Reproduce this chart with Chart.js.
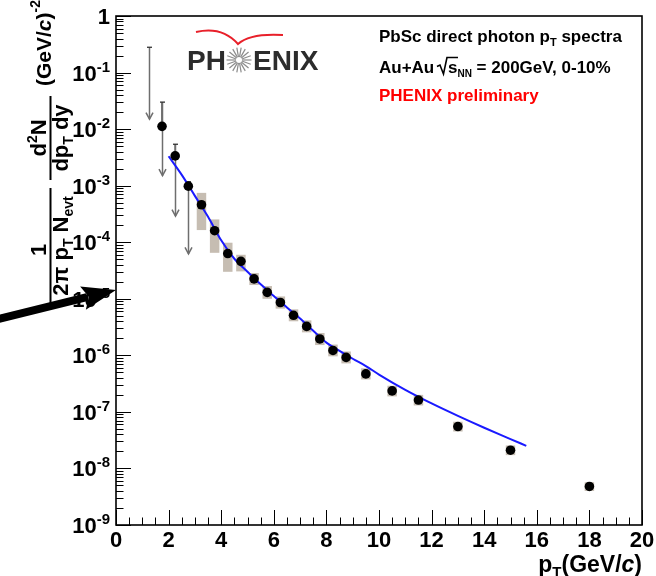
<!DOCTYPE html>
<html>
<head>
<meta charset="utf-8">
<script src="https://cdn.jsdelivr.net/npm/chart.js@4/dist/chart.umd.min.js"></script>
<style>
  html, body { margin: 0; padding: 0; background: #fff; }
  canvas { display: block; }
</style>
</head>
<body>
<canvas id="c" width="656" height="576"></canvas>
<script>
// Direct photon invariant yield, Au+Au sqrt(sNN) = 200 GeV, 0-10% central (PbSc)
const ptBins    = [1.75, 2.25, 2.75, 3.25, 3.75, 4.25, 4.75, 5.25, 5.75, 6.25, 6.75,
                   7.25, 7.75, 8.25, 8.75, 9.5, 10.5, 11.5, 13, 15, 18];
const yieldVals = [1.12e-2, 3.36e-3, 9.8e-4, 4.6e-4, 1.6e-4, 6.3e-5, 4.6e-5, 2.25e-5, 1.3e-5, 8.6e-6, 5.1e-6,
                   3.25e-6, 1.95e-6, 1.22e-6, 9.2e-7, 4.7e-7, 2.35e-7, 1.62e-7, 5.5e-8, 2.1e-8, 4.8e-9];
// statistical error ends (null = hidden by the marker)
const statHi    = [3.0e-2, 5.4e-3, 1.17e-3, 5.4e-4, 1.9e-4, null, null, null, null, null, null,
                   null, null, null, null, null, null, null, null, null, null];
const statLo    = [null, null, null, 3.9e-4, 1.35e-4, null, null, null, null, null, null,
                   null, null, null, null, null, null, null, null, null, null];
// systematic error boxes
const sysHi     = [null, null, null, 7.46e-4, 2.53e-4, 9.8e-5, 6.0e-5, 2.85e-5, 1.68e-5, 1.1e-5, 6.5e-6,
                   4.15e-6, 2.48e-6, 1.55e-6, 1.17e-6, 5.9e-7, 2.9e-7, 2.0e-7, 6.7e-8, 2.55e-8, 5.7e-9];
const sysLo     = [null, null, null, 1.64e-4, 6.5e-5, 3.0e-5, 3.05e-5, 1.75e-5, 1.0e-5, 6.7e-6, 4.0e-6,
                   2.55e-6, 1.52e-6, 9.6e-7, 7.2e-7, 3.75e-7, 1.88e-7, 1.3e-7, 4.5e-8, 1.72e-8, 4.0e-9];
// upper-limit arrows (from cap value down to arrow tip)
const arrowPt   = [1.25, 1.75, 2.25, 2.75];
const arrowTop  = [0.28, 3.0e-2, 5.4e-3, 1.17e-3];
const arrowTip  = [1.5e-2, 1.5e-3, 2.9e-4, 6.2e-5];
// fitted reference curve
const fitPt     = [2.0, 2.5, 3.0, 3.5, 4.0, 4.5, 5.0, 5.5, 6.0, 6.5, 7.0, 7.5, 8.0, 8.5,
                   9.0, 9.5, 10.0, 11.0, 12.0, 13.0, 14.0, 15.0, 15.6];
const fitVals   = [3.31e-3, 1.55e-3, 6.6e-4, 2.82e-4, 1.08e-4, 5.1e-5, 3.0e-5, 1.8e-5, 1.12e-5, 7.0e-6, 4.47e-6,
                   2.72e-6, 1.68e-6, 1.2e-6, 8.7e-7, 6.46e-7, 4.57e-7, 2.45e-7, 1.41e-7, 8.5e-8, 5.25e-8,
                   3.31e-8, 2.51e-8];
// axis labels
const xTickVals = [0, 2, 4, 6, 8, 10, 12, 14, 16, 18, 20];
const yDecades  = [0, -1, -2, -3, -4, -5, -6, -7, -8, -9];

const FONT = '"Liberation Sans", Arial, Helvetica, sans-serif';
function setFont(ctx, size, italic) {
  ctx.font = (italic ? 'italic ' : '') + 'bold ' + size + 'px ' + FONT;
}
function runsWidth(ctx, runs, base) {
  let w = 0;
  for (const r of runs) { setFont(ctx, r.s || base, r.it); w += ctx.measureText(r.t).width; }
  return w;
}
function drawRuns(ctx, runs, x, y, base) {
  let cx = x;
  for (const r of runs) {
    setFont(ctx, r.s || base, r.it);
    ctx.fillText(r.t, cx, y + (r.dy || 0));
    cx += ctx.measureText(r.t).width;
  }
  return cx;
}

const errorPlugin = {
  id: 'errors',
  beforeDatasetsDraw(chart) {
    const { ctx, scales: { x, y }, chartArea } = chart;
    ctx.save();
    ctx.beginPath();
    ctx.rect(chartArea.left, chartArea.top, chartArea.width, chartArea.height);
    ctx.clip();
    // systematic boxes
    ctx.fillStyle = 'rgb(198,189,178)';
    ptBins.forEach((pt, i) => {
      if (sysHi[i] == null) return;
      const x0 = x.getPixelForValue(pt - 0.18), x1 = x.getPixelForValue(pt + 0.18);
      const y0 = y.getPixelForValue(sysHi[i]), y1 = y.getPixelForValue(sysLo[i]);
      ctx.fillRect(x0, y0, x1 - x0, y1 - y0);
    });
    // statistical bars
    ctx.strokeStyle = '#222';
    ctx.lineWidth = 1.3;
    ptBins.forEach((pt, i) => {
      const px = x.getPixelForValue(pt), py = y.getPixelForValue(yieldVals[i]);
      if (statHi[i] != null) {
        const t = y.getPixelForValue(statHi[i]);
        ctx.beginPath(); ctx.moveTo(px, py); ctx.lineTo(px, t); ctx.stroke();
      }
      if (statLo[i] != null) {
        const b = y.getPixelForValue(statLo[i]);
        ctx.beginPath(); ctx.moveTo(px, py); ctx.lineTo(px, b); ctx.stroke();
      }
    });
    // limit arrows
    arrowPt.forEach((pt, i) => {
      const px = Math.round(x.getPixelForValue(pt)) + 0.5;
      const t = y.getPixelForValue(arrowTop[i]);
      const b = y.getPixelForValue(arrowTip[i]);
      ctx.strokeStyle = '#6e6e6e';
      ctx.lineWidth = 1.5;
      ctx.beginPath(); ctx.moveTo(px, t); ctx.lineTo(px, b); ctx.stroke();
      ctx.beginPath(); ctx.moveTo(px - 3.5, b - 6.5); ctx.lineTo(px, b); ctx.lineTo(px + 3.5, b - 6.5); ctx.stroke();
      ctx.strokeStyle = '#333';
      ctx.lineWidth = 1.3;
      ctx.beginPath(); ctx.moveTo(px - 2.5, t); ctx.lineTo(px + 2.5, t); ctx.stroke();
    });
    ctx.restore();
  }
};

const framePlugin = {
  id: 'frame',
  afterDraw(chart) {
    const { ctx, scales: { x, y }, chartArea: a } = chart;
    ctx.save();
    ctx.fillStyle = '#000';
    ctx.strokeStyle = '#000';

    // y-axis ticks (inward)
    ctx.lineWidth = 1;
    for (let k = 0; k >= -9; k--) {
      const base = Math.pow(10, k);
      const py = Math.round(y.getPixelForValue(base)) + 0.5;
      ctx.beginPath(); ctx.moveTo(a.left, py); ctx.lineTo(a.left + 15, py); ctx.stroke();
      if (k > -9) {
        for (let m = 2; m <= 9; m++) {
          const my = Math.round(y.getPixelForValue(base * m / 10)) + 0.5;
          ctx.beginPath(); ctx.moveTo(a.left, my); ctx.lineTo(a.left + 7.5, my); ctx.stroke();
        }
      }
    }
    // x-axis ticks (inward)
    for (let v = 0; v <= 20.001; v += 0.5) {
      const px = Math.round(x.getPixelForValue(v)) + 0.5;
      const major = Math.abs(v / 2 - Math.round(v / 2)) < 1e-6;
      ctx.beginPath(); ctx.moveTo(px, a.bottom); ctx.lineTo(px, a.bottom - (major ? 15 : 7.5)); ctx.stroke();
    }
    // frame
    ctx.lineWidth = 1.6;
    ctx.strokeRect(a.left, a.top, a.right - a.left, a.bottom - a.top);

    // y tick labels
    ctx.textBaseline = 'alphabetic';
    ctx.textAlign = 'left';
    yDecades.forEach(k => {
      const ty = y.getPixelForValue(Math.pow(10, k));
      const runs = k === 0 ? [{ t: '1' }] : [{ t: '10' }, { t: String(k), s: 15, dy: -9 }];
      const w = runsWidth(ctx, runs, 22);
      drawRuns(ctx, runs, 110 - w, ty + 8, 22);
    });
    // x tick labels
    xTickVals.forEach(v => {
      const px = x.getPixelForValue(v);
      setFont(ctx, 22);
      const w = ctx.measureText(String(v)).width;
      ctx.fillText(String(v), px - w / 2, 547);
    });
    // x title
    {
      const runs = [{ t: 'p' }, { t: 'T', s: 15, dy: 5 }, { t: '(GeV/' }, { t: 'c', it: true }, { t: ')' }];
      const w = runsWidth(ctx, runs, 23);
      drawRuns(ctx, runs, 642 - w, 572, 23);
    }
    // y title (rotated)
    ctx.save();
    ctx.translate(0, 310);
    ctx.rotate(-Math.PI / 2);
    {
      // 1 / (2pi pT Nevt)
      let runs = [{ t: '1' }];
      let w = runsWidth(ctx, runs, 22);
      drawRuns(ctx, runs, 60 - w / 2, 46, 22);
      ctx.lineWidth = 2;
      ctx.beginPath(); ctx.moveTo(6, 50.5); ctx.lineTo(122, 50.5); ctx.stroke();
      runs = [{ t: '2\u03C0 p' }, { t: 'T', s: 14, dy: 5 }, { t: ' N' }, { t: 'evt', s: 14, dy: 5 }];
      w = runsWidth(ctx, runs, 22);
      drawRuns(ctx, runs, 64 - w / 2, 68, 22);
      // d2N / (dpT dy)
      runs = [{ t: 'd' }, { t: '2', s: 14, dy: -9 }, { t: 'N' }];
      w = runsWidth(ctx, runs, 22);
      drawRuns(ctx, runs, 172 - w / 2, 46, 22);
      ctx.beginPath(); ctx.moveTo(130, 50.5); ctx.lineTo(214, 50.5); ctx.stroke();
      runs = [{ t: 'dp' }, { t: 'T', s: 14, dy: 5 }, { t: ' dy' }];
      w = runsWidth(ctx, runs, 22);
      drawRuns(ctx, runs, 172 - w / 2, 68, 22);
      // (GeV/c)^-2
      runs = [{ t: '(GeV/' }, { t: 'c', it: true }, { t: ')' }, { t: '-2', s: 14, dy: -11 }];
      drawRuns(ctx, runs, 224, 51, 21);
    }
    ctx.restore();

    // annotation block
    ctx.fillStyle = '#000';
    drawRuns(ctx, [{ t: 'PbSc direct photon p' }, { t: 'T', s: 11, dy: 4 }, { t: ' spectra' }], 379, 42, 17);
    let cx = drawRuns(ctx, [{ t: 'Au+Au ' }], 379, 73, 17);
    // square-root sign
    ctx.lineWidth = 1.6;
    ctx.beginPath();
    ctx.moveTo(cx - 2, 66.5); ctx.lineTo(cx + 1, 65); ctx.lineTo(cx + 4.5, 74);
    ctx.lineTo(cx + 8, 57.5); ctx.lineTo(cx + 19, 57.5);
    ctx.stroke();
    cx = drawRuns(ctx, [{ t: 's' }, { t: 'NN', s: 10, dy: 4 }], cx + 9, 73, 17);
    drawRuns(ctx, [{ t: ' = 200GeV, 0-10%' }], cx, 73, 17);
    ctx.fillStyle = '#ff0000';
    drawRuns(ctx, [{ t: 'PHENIX preliminary' }], 379, 101, 17);

    // PHENIX logo
    ctx.fillStyle = '#2c2c2c';
    drawRuns(ctx, [{ t: 'PH' }], 187, 70, 28);
    drawRuns(ctx, [{ t: 'ENIX' }], 253, 70, 28);
    ctx.strokeStyle = '#8c8c8c';
    ctx.lineWidth = 1.2;
    for (let i = 0; i < 18; i++) {
      const ang = i * Math.PI * 2 / 18;
      ctx.beginPath();
      ctx.moveTo(239 + 3 * Math.cos(ang), 60 + 3 * Math.sin(ang));
      ctx.lineTo(239 + 12.5 * Math.cos(ang), 60 + 12.5 * Math.sin(ang));
      ctx.stroke();
    }
    ctx.strokeStyle = '#e8202a';
    ctx.lineWidth = 2;
    ctx.beginPath();
    ctx.moveTo(196, 32);
    ctx.quadraticCurveTo(222, 26, 238, 44);
    ctx.quadraticCurveTo(250, 33, 283, 35);
    ctx.stroke();

    // pointer arrow
    ctx.fillStyle = '#000';
    ctx.strokeStyle = '#000';
    const tip = [116, 290], tail = [-2, 319];
    const dx = tip[0] - tail[0], dy = tip[1] - tail[1], L = Math.hypot(dx, dy);
    const ux = dx / L, uy = dy / L, nx = -uy, ny = ux;
    const hb = [tip[0] - 34 * ux, tip[1] - 34 * uy];
    ctx.lineWidth = 8;
    ctx.beginPath(); ctx.moveTo(tail[0], tail[1]); ctx.lineTo(hb[0] + 4 * ux, hb[1] + 4 * uy); ctx.stroke();
    ctx.beginPath();
    ctx.moveTo(tip[0], tip[1]);
    ctx.lineTo(hb[0] + 12 * nx, hb[1] + 12 * ny);
    ctx.lineTo(hb[0] + 6 * ux, hb[1] + 6 * uy);
    ctx.lineTo(hb[0] - 12 * nx, hb[1] - 12 * ny);
    ctx.closePath();
    ctx.fill();

    ctx.restore();
  }
};

new Chart(document.getElementById('c'), {
  type: 'scatter',
  data: {
    datasets: [
      {
        type: 'line',
        label: 'fit',
        data: fitPt.map((p, i) => ({ x: p, y: fitVals[i] })),
        showLine: true,
        borderColor: '#1a1aff',
        borderWidth: 2,
        pointRadius: 0,
        cubicInterpolationMode: 'monotone',
        fill: false,
        order: 2
      },
      {
        label: 'direct photon',
        data: ptBins.map((p, i) => ({ x: p, y: yieldVals[i] })),
        pointRadius: 4.8,
        pointBackgroundColor: '#000',
        pointBorderColor: '#000',
        pointBorderWidth: 0,
        order: 1
      }
    ]
  },
  options: {
    responsive: false,
    animation: false,
    devicePixelRatio: 1,
    layout: { padding: { left: 116, top: 16, right: 14, bottom: 51 } },
    plugins: { legend: { display: false }, tooltip: { enabled: false } },
    scales: {
      x: { type: 'linear', min: 0, max: 20, display: false },
      y: { type: 'logarithmic', min: 1e-9, max: 1, display: false }
    }
  },
  plugins: [errorPlugin, framePlugin]
});
</script>
</body>
</html>
